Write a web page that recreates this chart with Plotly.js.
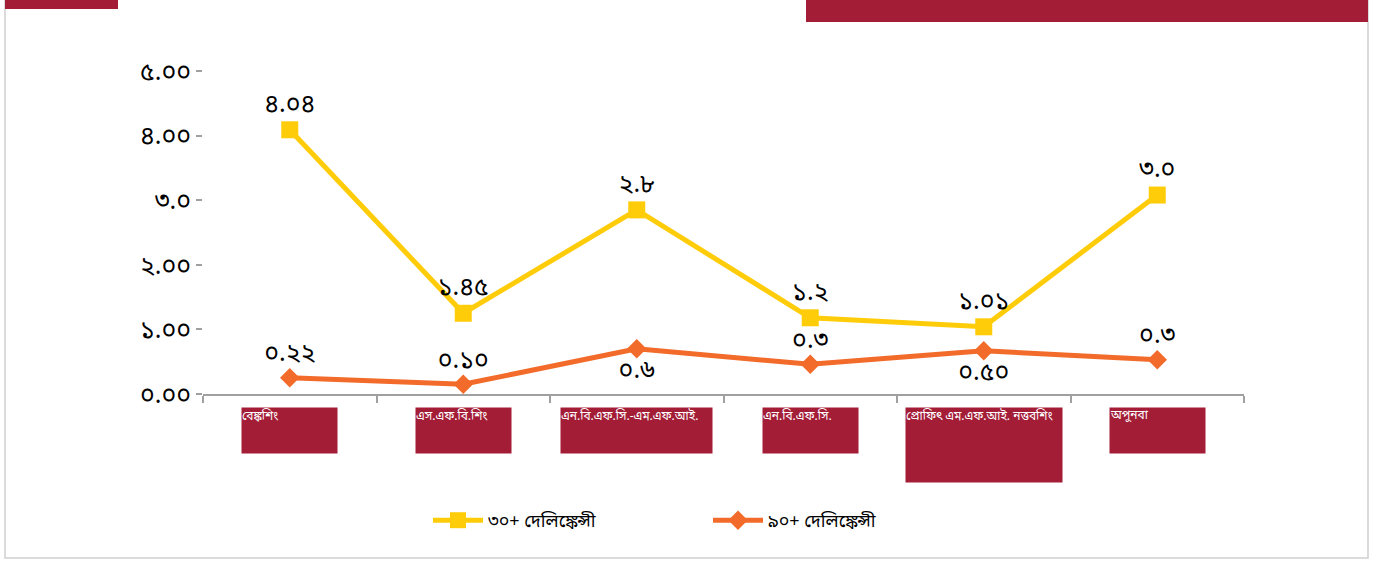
<!DOCTYPE html>
<html>
<head>
<meta charset="utf-8">
<script src="https://cdn.plot.ly/plotly-3.0.1.min.js"></script>
<style>
html,body{margin:0;padding:0;background:#fff;}
#chart{width:1377px;height:561px;}
</style>
</head>
<body>
<div id="chart"></div>
<script>
var categories = ["বেঙ্কশিং", "এস.এফ.বি.শিং", "এন.বি.এফ.সি.-এম.এফ.আই.", "এন.বি.এফ.সি.", "প্রোফিৎ এম.এফ.আই. নত্তবশিং", "অপুনবা"];
var series30Name = "৩০+ দেলিঙ্কেন্সী";
var series90Name = "৯০+ দেলিঙ্কেন্সী";
var series30 = [4.09, 1.25, 2.85, 1.18, 1.04, 3.08];
var series90 = [0.25, 0.15, 0.70, 0.46, 0.67, 0.53];
var labels30 = ["৪.০৪", "১.৪৫", "২.৮", "১.২", "১.০১", "৩.০"];
var labels90 = ["০.২২", "০.১০", "০.৬", "০.৩", "০.৫০", "০.৩"];
var yTickVals = [0, 1, 2, 3, 4, 5];
var yTickText = ["০.০০", "১.০০", "২.০০", "৩.০", "৪.০০", "৫.০০"];

var W = 1377, H = 561;
var L = 203, R = 133, T = 71, B = 167;
var pw = W - L - R, ph = H - T - B;
function px(x){ return (x - L) / pw; }
function py(y){ return (H - B - y) / ph; }

var red = "#A31D37";
var fontFam = "'Noto Sans Bengali','Lohit Bengali','FreeSans','Noto Sans',sans-serif";

var trace30 = {
  x: categories, y: series30, text: labels30, name: series30Name,
  type: "scatter", mode: "lines+markers+text",
  line: {color: "#FFCC0A", width: 5},
  marker: {symbol: "square", size: 17, color: "#FFCC0A"},
  textposition: "top center",
  textfont: {size: 25, color: "#000", family: fontFam},
  cliponaxis: false
};
var trace90 = {
  x: categories, y: series90, text: labels90, name: series90Name,
  type: "scatter", mode: "lines+markers+text",
  line: {color: "#F26B2A", width: 5},
  marker: {symbol: "diamond", size: 15, color: "#F26B2A"},
  textposition: ["top center", "top center", "bottom center", "top center", "bottom center", "top center"],
  textfont: {size: 25, color: "#000", family: fontFam},
  cliponaxis: false
};

var boxW = [95, 95, 151, 95, 156, 95];
var boxH = [45, 45, 45, 45, 74, 45];
var annotations = categories.map(function(c, i){
  return {
    x: i, xref: "x", y: py(407), yref: "paper",
    xanchor: "center", yanchor: "top",
    text: c, showarrow: false,
    width: boxW[i], height: boxH[i],
    align: "left", valign: "top",
    bgcolor: red, borderpad: 0,
    font: {size: 12, color: "#fff", family: fontFam}
  };
});

var shapes = [
  {type: "rect", xref: "paper", yref: "paper", x0: px(5), x1: px(1368), y0: py(558), y1: py(-5),
   line: {color: "#d0d0d0", width: 1.5}, fillcolor: "rgba(0,0,0,0)", layer: "below"},
  {type: "rect", xref: "paper", yref: "paper", x0: px(5), x1: px(118), y0: py(9), y1: py(-2),
   line: {width: 0}, fillcolor: red},
  {type: "rect", xref: "paper", yref: "paper", x0: px(806), x1: px(1368), y0: py(22), y1: py(-2),
   line: {width: 0}, fillcolor: red}
];

var layout = {
  width: W, height: H,
  margin: {l: L, r: R, t: T, b: B},
  paper_bgcolor: "#fff", plot_bgcolor: "#fff",
  showlegend: true,
  legend: {orientation: "h", x: px(428), xanchor: "left", y: py(502), yanchor: "top",
           itemwidth: 50,
           font: {size: 18, color: "#000", family: fontFam}, entrywidth: 215, entrywidthmode: "pixels"},
  xaxis: {type: "category", showline: true, linecolor: "#a0a0a0", linewidth: 2,
          ticks: "outside", tickson: "boundaries", ticklen: 7, tickcolor: "#a0a0a0", tickwidth: 2,
          showticklabels: false, showgrid: false, zeroline: false, range: [-0.5, 5.5], fixedrange: true},
  yaxis: {range: [0, 5], tickvals: yTickVals, ticktext: yTickText, showline: false,
          ticks: "outside", ticklen: 6, tickcolor: "#a0a0a0", tickwidth: 2,
          showgrid: false, zeroline: false,
          tickfont: {size: 25, color: "#000", family: fontFam}},
  annotations: annotations,
  shapes: shapes
};

Plotly.newPlot("chart", [trace30, trace90], layout, {displayModeBar: false, staticPlot: true});
</script>
</body>
</html>
